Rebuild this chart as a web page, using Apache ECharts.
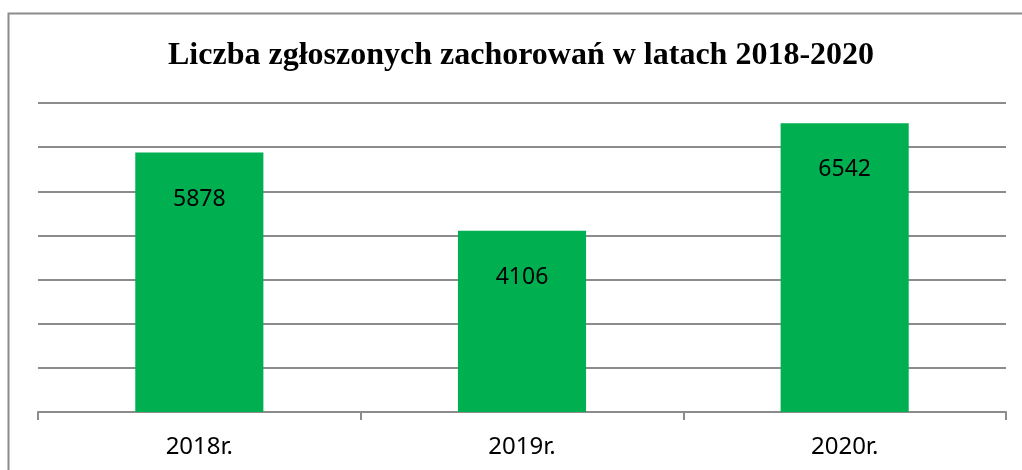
<!DOCTYPE html>
<html>
<head>
<meta charset="utf-8">
<script src="https://cdn.jsdelivr.net/npm/echarts@6/dist/echarts.min.js"></script>
<style>
html,body{margin:0;padding:0;background:#fff;}
#c{width:1022px;height:470px;}
</style>
</head>
<body>
<div id="c"></div>
<script>
const titleText = 'Liczba zgłoszonych zachorowań w latach 2018-2020';
const categories = ['2018r.', '2019r.', '2020r.'];
const values = [5878, 4106, 6542];
const yMax = 7000;
const yInterval = 1000;

const chart = echarts.init(document.getElementById('c'), null, {renderer: 'canvas'});
chart.setOption({
  animation: false,
  backgroundColor: '#ffffff',
  graphic: [{
    type: 'polyline',
    shape: {points: [[1030, 13.5], [8.5, 13.5], [8.5, 480]]},
    style: {stroke: '#8c8c8c', lineWidth: 2, fill: null},
    silent: true
  }],
  title: {
    text: titleText,
    left: 163,
    top: 35,
    textStyle: {
      fontFamily: 'Liberation Serif',
      fontWeight: 'bold',
      fontSize: 32,
      color: '#000'
    }
  },
  grid: {left: 38, right: 16, top: 103, bottom: 58},
  xAxis: {
    type: 'category',
    data: categories,
    axisLine: {lineStyle: {color: '#8c8c8c', width: 2}},
    axisTick: {show: true, length: 8, lineStyle: {color: '#8c8c8c', width: 2}},
    axisLabel: {
      fontFamily: 'Noto Sans',
      fontSize: 24,
      color: '#000',
      margin: 23
    }
  },
  yAxis: {
    type: 'value',
    min: 0,
    max: yMax,
    interval: yInterval,
    axisLine: {show: false},
    axisTick: {show: false},
    axisLabel: {show: false},
    splitLine: {lineStyle: {color: '#8c8c8c', width: 2}}
  },
  series: [{
    type: 'bar',
    data: values,
    barWidth: '39.7%',
    itemStyle: {color: '#00b050'},
    label: {
      show: true,
      position: 'insideTop',
      distance: 35,
      fontFamily: 'Noto Sans',
      fontSize: 23,
      color: '#000'
    }
  }]
});
</script>
</body>
</html>
